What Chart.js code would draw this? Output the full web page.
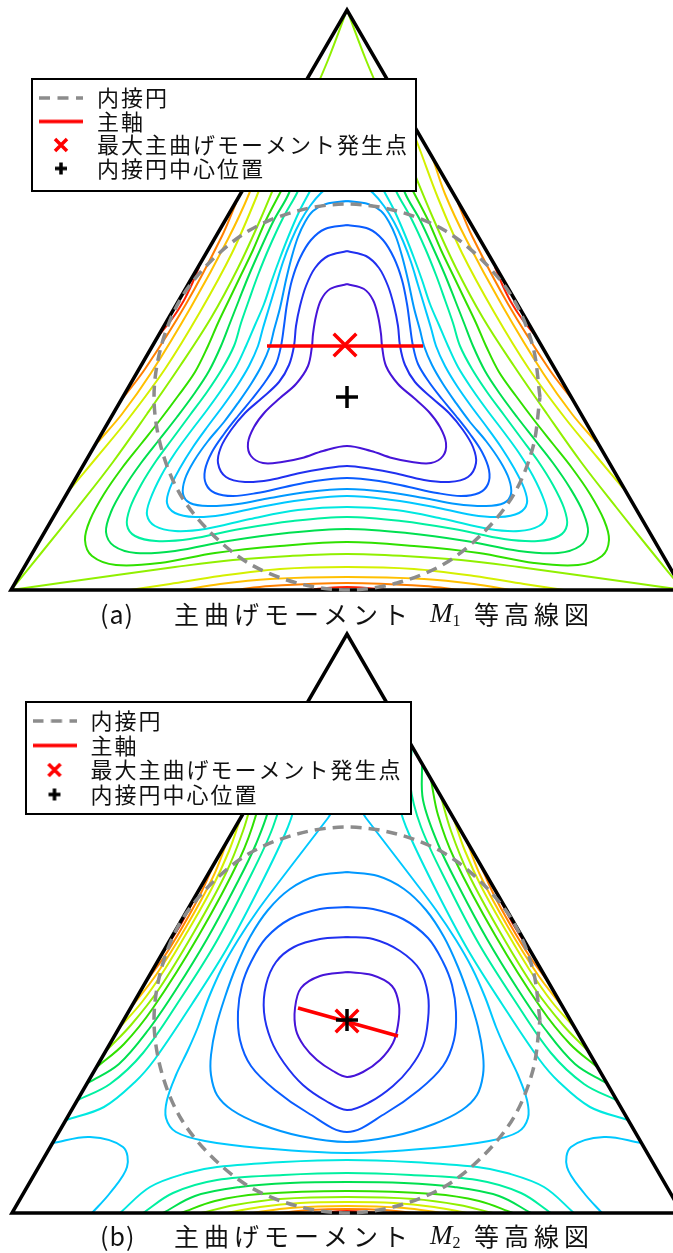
<!DOCTYPE html>
<html lang="ja">
<head>
<meta charset="utf-8">
<title>主曲げモーメント等高線図</title>
<script src="https://cdn.jsdelivr.net/npm/chart.js@4.4.1/dist/chart.umd.min.js"></script>
<style>
  html, body { margin: 0; padding: 0; background: #fff; }
  body { position: relative; width: 673px; height: 1253px; overflow: hidden; }
  .panel { position: absolute; left: 0; }
  .caption { position: absolute; left: 0; width: 673px; height: 30px; color: #111;
             font-family: "Noto Sans CJK JP", sans-serif; font-size: 25px; line-height: 30px; white-space: nowrap; }
  .caption span { position: absolute; top: 0; }
  .caption .tag { left: 100px; letter-spacing: 1px; }
  .caption .jp1 { left: 174px; letter-spacing: 5px; }
  .caption .sym { left: 430px; font-family: "Liberation Serif", serif; font-size: 27px; }
  .caption .sym sub { font-size: 16px; vertical-align: -4px; }
  .caption .jp2 { left: 474px; letter-spacing: 5px; }
</style>
</head>
<body>
<canvas id="m1" class="panel" width="673" height="600" style="top:0"></canvas>
<div class="caption" style="top:598px"><span class="tag">(a)</span><span class="jp1">主曲げモーメント</span><span class="sym"><i>M</i><sub>1</sub></span><span class="jp2">等高線図</span></div>
<canvas id="m2" class="panel" width="673" height="600" style="top:623px"></canvas>
<div class="caption" style="top:1220px"><span class="tag">(b)</span><span class="jp1">主曲げモーメント</span><span class="sym"><i>M</i><sub>2</sub></span><span class="jp2">等高線図</span></div>
<script>
// plate coordinates: x to the right, y downward, incentre at (347, 397)
const levelColors = ['#4614d8', '#2030f0', '#0a5cff', '#0098ff', '#00c8ff', '#00e8e0', '#00f0a0',
                     '#00e050', '#30e000', '#90f000', '#d4f000', '#ffc000', '#ff8000', '#ff2000'];

const incircle = [[540,397],[533,347],[514,300],[483,261],[444,230],[397,211],[347,204],[297,211],[250,230],
  [211,261],[180,300],[161,347],[154,397],[161,447],[180,494],[211,533],[250,564],[297,583],[347,590],
  [397,583],[444,564],[483,533],[514,494],[533,447],[540,397]];

// ---- M1 ----
const m1Edge = [[347,590],[11,590],[347,10],[683,590],[347,590]];
const m1Axis = [[267,346],[423,346]];
const m1Peak = [345,345];
const m1Centre = [347,397];

const m1Lv0 = [[347,284],[330,289],[321,300],[316,316],[313,334],[312,346],[308,366],[296,384],[280,398],[265,412],[254,427],[248,443],[251,456],[263,463],[282,462],[302,458],[323,451],[347,446],[371,451],[392,458],[412,462],[431,463],[443,456],[446,443],[440,427],[429,412],[414,398],[398,384],[386,366],[382,346],[381,334],[378,316],[373,300],[364,289],[347,284]];
const m1Lv1 = [[347,251],[328,256],[315,268],[306,286],[300,306],[296,326],[294,346],[289,365],[279,382],[262,398],[245,413],[231,430],[221,447],[218,463],[226,477],[245,482],[270,480],[300,473],[322,469],[347,466],[372,469],[394,473],[424,480],[449,482],[468,477],[476,463],[473,447],[463,430],[449,413],[432,398],[415,382],[405,365],[400,346],[398,326],[394,306],[388,286],[379,268],[366,256],[347,251]];
const m1Lv2 = [[347,225],[325,229],[311,240],[300,258],[292,280],[287,304],[284,326],[281,346],[276,364],[265,382],[252,399],[238,416],[224,434],[212,452],[205,470],[206,484],[215,493],[233,496],[257,493],[285,487],[315,481],[347,478],[379,481],[409,487],[437,493],[461,496],[479,493],[488,484],[489,470],[482,452],[470,434],[456,416],[442,399],[429,382],[418,364],[413,346],[410,326],[407,304],[402,280],[394,258],[383,240],[369,229],[347,225]];
const m1Lv3 = [[347,201],[326,204],[313,211],[305,222],[298,237],[292,256],[286,280],[280,308],[274,330],[270,346],[262,365],[251,384],[238,403],[224,422],[208,441],[194,461],[185,479],[183,494],[190,503],[208,506],[238,504],[270,498],[307,492],[347,489],[387,492],[424,498],[456,504],[486,506],[504,503],[511,494],[509,479],[500,461],[486,441],[470,422],[456,403],[443,384],[432,365],[424,346],[420,330],[414,308],[408,280],[402,256],[396,237],[389,222],[381,211],[368,204],[347,201]];
const m1Lv4 = [[347,182],[332,185],[321,193],[310,206],[300,222],[291,241],[283,262],[276,285],[269,308],[263,328],[258,346],[249,366],[237,386],[223,406],[208,426],[193,447],[180,468],[170,488],[167,503],[175,513],[195,517],[222,515],[260,507],[302,500],[347,496],[392,500],[434,507],[472,515],[499,517],[519,513],[527,503],[524,488],[514,468],[501,447],[486,426],[471,406],[457,386],[445,366],[436,346],[431,328],[425,308],[418,285],[411,262],[403,241],[394,222],[384,206],[373,193],[362,185],[347,182]];
const m1Lv5 = [[347,166],[328,169],[317,178],[309,193],[299,212],[289,235],[280,258],[272,280],[264,304],[255,325],[246,346],[236,367],[222,389],[207,410],[191,431],[175,453],[161,476],[150,500],[147,515],[155,526],[175,531],[205,529],[250,519],[298,510],[347,507],[396,510],[444,519],[489,529],[519,531],[539,526],[547,515],[544,500],[533,476],[519,453],[503,431],[487,410],[472,389],[458,367],[448,346],[439,325],[430,304],[422,280],[414,258],[405,235],[395,212],[385,193],[377,178],[366,169],[347,166]];
const m1Lv6 = [[347,150],[326,153],[312,162],[304,176],[297,193],[283,218],[269,248],[258,275],[249,300],[241,323],[234,346],[222,369],[207,392],[190,415],[173,438],[156,461],[141,485],[130,508],[127,525],[135,536],[156,541],[190,539],[240,529],[293,521],[347,517],[401,521],[454,529],[504,539],[538,541],[559,536],[567,525],[564,508],[553,485],[538,461],[521,438],[504,415],[487,392],[472,369],[460,346],[453,323],[445,300],[436,275],[425,248],[411,218],[397,193],[390,176],[382,162],[368,153],[347,150]];
const m1Lv7 = [[347,135],[322,139],[305,150],[296,168],[289,193],[274,220],[260,250],[249,275],[239,300],[230,323],[221,346],[209,371],[194,394],[177,417],[159,440],[141,463],[124,488],[111,512],[106,532],[114,546],[136,553],[175,551],[228,541],[287,533],[347,529],[407,533],[466,541],[519,551],[558,553],[580,546],[588,532],[583,512],[570,488],[553,463],[535,440],[517,417],[500,394],[485,371],[473,346],[464,323],[455,300],[445,275],[434,250],[420,220],[405,193],[398,168],[389,150],[372,139],[347,135]];
const m1Lv8 = [[347,122],[326,125],[311,134],[300,150],[292,170],[280,193],[266,220],[253,250],[241,275],[229,300],[218,323],[208,346],[195,372],[178,396],[160,420],[141,444],[122,468],[104,494],[90,520],[85,540],[92,556],[116,565],[160,563],[215,553],[280,546],[347,542],[414,546],[479,553],[534,563],[578,565],[602,556],[609,540],[604,520],[590,494],[572,468],[553,444],[534,420],[516,396],[499,372],[486,346],[476,323],[465,300],[453,275],[441,250],[428,220],[414,193],[402,170],[394,150],[383,134],[368,125],[347,122]];
const m1Lv9Left = [[347,10],[328,60],[307,109],[284,163],[261,218],[238,268],[211,318],[180,366],[147,414],[113,462],[78,507],[42,552],[11,590]];
const m1Lv9Right = [[347,10],[366,60],[387,109],[410,163],[433,218],[456,268],[483,318],[514,366],[547,414],[581,462],[616,507],[652,552],[683,590]];
const m1Lv9Bottom = [[11,590],[60,583],[117,575],[175,567],[233,560],[290,556],[347,554],[404,556],[461,560],[519,567],[577,575],[634,583],[683,590]];
const m1Lv10Left = [[288,113],[274,150],[256,198],[232,253],[200,312],[165,369],[129,418],[97,457],[71,488]];
const m1Lv10Bottom = [[130,590],[170,584],[220,576],[280,569],[347,567],[414,569],[474,576],[524,584],[564,590]];
const m1Lv10Right = [[406,113],[420,150],[438,198],[462,253],[494,312],[529,369],[565,418],[597,457],[623,488]];
const m1Lv11Left = [[261,159],[249,194],[228,239],[191,307],[151,373],[122,414],[98,442]];
const m1Lv11Bottom = [[184,590],[220,584],[270,579],[347,577],[424,579],[474,584],[510,590]];
const m1Lv11Right = [[433,159],[445,194],[466,239],[503,307],[543,373],[572,414],[596,442]];
const m1Lv12Left = [[236,203],[222,236],[186,304],[145,369],[123,398]];
const m1Lv12Bottom = [[234,590],[270,586],[347,583],[424,586],[460,590]];
const m1Lv12Right = [[458,203],[472,236],[508,304],[549,369],[571,398]];
const m1Lv13Left = [[199,267],[192,284],[183,302],[172,319],[160,334]];
const m1Lv13Bottom = [[308,590],[327,588],[347,587],[367,588],[386,590]];
const m1Lv13Right = [[495,267],[502,284],[511,302],[522,319],[534,334]];

// ---- M2 ----
const m2Edge = [[347,590],[12,590],[347,11],[682,590],[347,590]];
const m2Axis = [[298,385],[398,413]];
const m2Peak = [347,398];
const m2Centre = [347,397];

const m2Lv0 = [[347,349],[372,352],[392,363],[399,382],[398,402],[393,420],[380,437],[363,449],[347,454],[333,448],[317,437],[304,423],[296,407],[295,385],[301,365],[320,353],[347,349]];
const m2Lv1 = [[347,314],[373,316],[400,328],[420,347],[428,372],[428,397],[423,423],[410,445],[393,463],[370,479],[347,487],[326,478],[303,462],[284,440],[271,417],[264,389],[266,362],[276,339],[294,324],[320,316],[347,314]];
const m2Lv2 = [[347,284],[373,286],[403,296],[428,315],[443,339],[452,362],[456,389],[454,417],[443,443],[419,467],[386,490],[347,509],[308,490],[275,467],[251,443],[240,417],[238,389],[242,362],[251,339],[266,315],[290,296],[320,286],[347,284]];
const m2Lv3 = [[347,249],[378,253],[404,266],[426,287],[444,314],[458,344],[469,374],[478,404],[483,432],[483,452],[477,472],[462,487],[434,501],[394,513],[347,519],[300,513],[260,501],[232,487],[217,472],[211,452],[211,432],[216,404],[225,374],[236,344],[250,314],[268,287],[290,266],[316,253],[347,249]];
const m2Lv4 = [[347,183],[360,187],[366,195],[389,225],[412,255],[436,287],[456,317],[472,345],[485,374],[496,404],[506,427],[518,452],[527,477],[528,495],[518,509],[489,518],[434,525],[347,530],[260,525],[205,518],[176,509],[166,495],[167,477],[176,452],[188,427],[198,404],[209,374],[222,345],[238,317],[258,287],[282,255],[305,225],[328,195],[334,187],[347,183]];
const m2Lv4CornerLeft = [[53,520],[90,514],[123,524],[127,544],[110,570],[92,590]];
const m2Lv4CornerRight = [[641,520],[604,514],[571,524],[567,544],[584,570],[602,590]];
const m2Lv4CornerTop = [[388,81],[374,116],[349,140],[330,133],[316,105],[307,80]];
const m2Lv5Left = [[293,104],[301,143],[295,182],[285,211],[256,271],[226,327],[192,381],[155,436],[135,459],[104,484],[66,497]];
const m2Lv5Bottom = [[120,590],[150,564],[187,550],[217,544],[283,539],[347,537],[411,539],[477,544],[507,550],[544,564],[574,590]];
const m2Lv5Right = [[401,104],[393,143],[399,182],[409,211],[438,271],[468,327],[502,381],[539,436],[559,459],[590,484],[628,497]];
const m2Lv6Left = [[282,124],[284,160],[273,204],[245,264],[215,321],[181,375],[143,430],[110,461],[78,477]];
const m2Lv6Bottom = [[143,590],[173,570],[217,557],[283,552],[347,550],[411,552],[477,557],[521,570],[551,590]];
const m2Lv6Right = [[412,124],[410,160],[421,204],[449,264],[479,321],[513,375],[551,430],[584,461],[616,477]];
const m2Lv7Left = [[272,141],[271,177],[256,221],[234,266],[207,316],[177,365],[149,406],[119,441],[88,460]];
const m2Lv7Bottom = [[163,590],[195,573],[240,564],[290,560],[347,559],[404,560],[454,564],[499,573],[531,590]];
const m2Lv7Right = [[422,141],[423,177],[438,221],[460,266],[487,316],[517,365],[545,406],[575,441],[606,460]];
const m2Lv8Left = [[263,157],[256,192],[240,235],[199,312],[153,385],[124,421],[97,444]];
const m2Lv8Bottom = [[181,590],[215,578],[260,571],[347,568],[434,571],[479,578],[513,590]];
const m2Lv8Right = [[431,157],[438,192],[454,235],[495,312],[541,385],[570,421],[597,444]];
const m2Lv9Left = [[253,174],[243,208],[226,250],[194,309],[159,366],[131,402],[107,427]];
const m2Lv9Bottom = [[201,590],[235,582],[280,576],[347,574],[414,576],[459,582],[493,590]];
const m2Lv9Right = [[441,174],[451,208],[468,250],[500,309],[535,366],[563,402],[587,427]];
const m2Lv10Left = [[240,197],[229,228],[212,265],[189,306],[165,346],[142,379],[120,404]];
const m2Lv10Bottom = [[227,590],[260,584],[300,580],[347,579],[394,580],[434,584],[467,590]];
const m2Lv10Right = [[454,197],[465,228],[482,265],[505,306],[529,346],[552,379],[574,404]];
const m2Lv11Left = [[227,219],[213,254],[186,304],[156,352],[133,382]];
const m2Lv11Bottom = [[253,590],[290,585],[347,583],[404,585],[441,590]];
const m2Lv11Right = [[467,219],[481,254],[508,304],[538,352],[561,382]];
const m2Lv12Left = [[214,241],[201,270],[183,303],[164,334],[145,360]];
const m2Lv12Bottom = [[278,590],[310,587],[347,586],[384,587],[416,590]];
const m2Lv12Right = [[480,241],[493,270],[511,303],[530,334],[549,360]];
const m2Lv13Left = [[196,273],[181,301],[164,328]];
const m2Lv13Bottom = [[315,590],[347,588],[379,590]];
const m2Lv13Right = [[498,273],[513,301],[530,328]];

const m1Contours = [
  [0, m1Lv0], [1, m1Lv1], [2, m1Lv2], [3, m1Lv3], [4, m1Lv4], [5, m1Lv5], [6, m1Lv6], [7, m1Lv7], [8, m1Lv8],
  [9, m1Lv9Left], [9, m1Lv9Right], [9, m1Lv9Bottom],
  [10, m1Lv10Left], [10, m1Lv10Bottom], [10, m1Lv10Right],
  [11, m1Lv11Left], [11, m1Lv11Bottom], [11, m1Lv11Right],
  [12, m1Lv12Left], [12, m1Lv12Bottom], [12, m1Lv12Right],
  [13, m1Lv13Left], [13, m1Lv13Bottom], [13, m1Lv13Right]
];
const m2Contours = [
  [0, m2Lv0], [1, m2Lv1], [2, m2Lv2], [3, m2Lv3], [4, m2Lv4],
  [4, m2Lv4CornerLeft], [4, m2Lv4CornerRight], [4, m2Lv4CornerTop],
  [5, m2Lv5Left], [5, m2Lv5Bottom], [5, m2Lv5Right],
  [6, m2Lv6Left], [6, m2Lv6Bottom], [6, m2Lv6Right],
  [7, m2Lv7Left], [7, m2Lv7Bottom], [7, m2Lv7Right],
  [8, m2Lv8Left], [8, m2Lv8Bottom], [8, m2Lv8Right],
  [9, m2Lv9Left], [9, m2Lv9Bottom], [9, m2Lv9Right],
  [10, m2Lv10Left], [10, m2Lv10Bottom], [10, m2Lv10Right],
  [11, m2Lv11Left], [11, m2Lv11Bottom], [11, m2Lv11Right],
  [12, m2Lv12Left], [12, m2Lv12Bottom], [12, m2Lv12Right],
  [13, m2Lv13Left], [13, m2Lv13Bottom], [13, m2Lv13Right]
];

// small legend glyphs
function icon(w, h, paint) {
  const c = document.createElement('canvas');
  c.width = w; c.height = h;
  const g = c.getContext('2d');
  paint(g, w, h);
  return c;
}
const iconCircle = icon(44, 6, (g, w, h) => {
  g.strokeStyle = '#8c8c8c'; g.lineWidth = 3.5; g.setLineDash([11, 7.5]);
  g.beginPath(); g.moveTo(0, h / 2); g.lineTo(w, h / 2); g.stroke();
});
const iconAxis = icon(44, 6, (g, w, h) => {
  g.strokeStyle = '#ff0000'; g.lineWidth = 3.5;
  g.beginPath(); g.moveTo(0, h / 2); g.lineTo(w, h / 2); g.stroke();
});
const iconPeak = icon(16, 16, (g) => {
  g.strokeStyle = '#ff0000'; g.lineWidth = 3.5;
  g.beginPath(); g.moveTo(2, 2); g.lineTo(14, 14); g.moveTo(14, 2); g.lineTo(2, 14); g.stroke();
});
const iconCentre = icon(16, 16, (g) => {
  g.strokeStyle = '#000'; g.lineWidth = 3.5;
  g.beginPath(); g.moveTo(2, 8); g.lineTo(14, 8); g.moveTo(8, 2); g.lineTo(8, 14); g.stroke();
});
const legendEntries = [
  ['内接円', iconCircle], ['主軸', iconAxis], ['最大主曲げモーメント発生点', iconPeak], ['内接円中心位置', iconCentre]
];

const toXY = (pts) => pts.map(([x, y]) => ({ x, y }));

// white framed legend painted over the contours
const legendFrame = {
  id: 'legendFrame',
  afterLayout(chart, args, opts) {
    chart.legend.left = opts.left;
    chart.legend.top = opts.top;
  },
  afterDatasetsDraw(chart, args, opts) {
    const { ctx } = chart;
    const [x, y, w, h] = opts.box;
    ctx.save();
    ctx.fillStyle = '#fff';
    ctx.fillRect(x, y, w, h);
    ctx.lineWidth = 2;
    ctx.strokeStyle = '#000';
    ctx.strokeRect(x, y, w, h);
    ctx.letterSpacing = '2px';
    chart.legend.draw();
    ctx.restore();
  }
};

function drawPanel(id, p) {
  const datasets = [
    { data: toXY([p.centre]), showLine: false, pointStyle: 'cross', pointRadius: 11,
      pointBorderWidth: 3.5, borderColor: '#000', pointBorderColor: '#000' },
    { data: toXY([p.peak]), showLine: false, pointStyle: 'crossRot', pointRadius: 16,
      pointBorderWidth: 3.5, borderColor: '#ff0000', pointBorderColor: '#ff0000' },
    { data: toXY(p.axis), showLine: true, pointRadius: 0, borderWidth: 3.5, borderColor: '#ff0000' },
    { data: toXY(incircle), showLine: true, pointRadius: 0, borderWidth: 3.5, borderColor: '#8c8c8c',
      borderDash: [11, 7], tension: 0.33 },
    { data: toXY(p.edge), showLine: true, pointRadius: 0, borderWidth: 3.5, borderColor: '#000',
      borderJoinStyle: 'miter' }
  ];
  p.contours.forEach(([lv, pts]) => {
    datasets.push({ data: toXY(pts), showLine: true, pointRadius: 0, borderWidth: 2,
      borderColor: levelColors[lv], tension: 0.35 });
  });

  new Chart(document.getElementById(id), {
    type: 'scatter',
    data: { datasets },
    plugins: [legendFrame],
    options: {
      responsive: false,
      animation: false,
      events: [],
      layout: { autoPadding: false, padding: 0 },
      scales: {
        x: { type: 'linear', display: false, min: 0, max: 673 },
        y: { type: 'linear', display: false, min: 0, max: 600, reverse: true }
      },
      plugins: {
        tooltip: { enabled: false },
        legend: {
          position: 'chartArea',
          align: 'start',
          fullSize: false,
          labels: {
            usePointStyle: true,
            pointStyleWidth: 50,
            padding: p.legendPad,
            color: '#111',
            font: { family: '"Noto Sans CJK JP", sans-serif', size: 22 },
            generateLabels: () => legendEntries.map(([text, glyph]) => ({
              text, pointStyle: glyph, fontColor: '#111', fillStyle: 'rgba(0,0,0,0)',
              strokeStyle: 'rgba(0,0,0,0)', lineWidth: 0, hidden: false
            }))
          }
        },
        legendFrame: { left: p.legendLeft, top: p.legendTop, box: p.legendBox }
      }
    }
  });
}

drawPanel('m1', {
  edge: m1Edge, axis: m1Axis, peak: m1Peak, centre: m1Centre, contours: m1Contours,
  legendPad: 1.5, legendLeft: 34.5, legendTop: 85.5, legendBox: [32, 79, 384, 112]
});
drawPanel('m2', {
  edge: m2Edge, axis: m2Axis, peak: m2Peak, centre: m2Centre, contours: m2Contours,
  legendPad: 2.5, legendLeft: 27, legendTop: 84.5, legendBox: [26, 79, 385, 112]
});
</script>
</body>
</html>
